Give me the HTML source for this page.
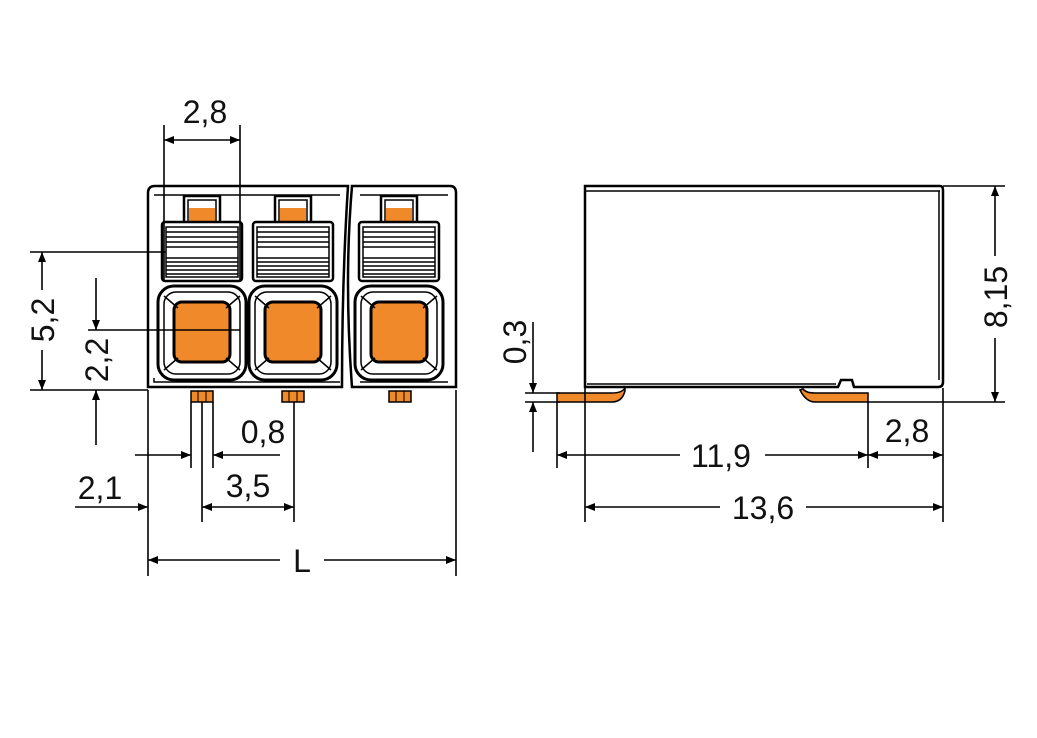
<!DOCTYPE html>
<html><head><meta charset="utf-8"><style>
html,body{margin:0;padding:0;background:#fff;}
svg{display:block;}
text{font-family:"Liberation Sans",sans-serif;font-size:32px;fill:#111;}
</style></head><body>
<svg width="1037" height="738" viewBox="0 0 1037 738" xmlns="http://www.w3.org/2000/svg">
<defs>
<marker id="a" viewBox="0 0 10 10" refX="10" refY="5" markerWidth="22" markerHeight="10" markerUnits="userSpaceOnUse" orient="auto-start-reverse"><path d="M0,1 L10,5 L0,9 Z" fill="#000"/></marker>
<g id="mod">
 <path d="M22,36 V10 H58 V36" fill="#fff" stroke="#000" stroke-width="2.5"/>
 <path d="M26,36 V14 H54 V36" fill="none" stroke="#000" stroke-width="1.5"/>
 <rect x="27" y="22" width="26" height="16" fill="#f0892a"/>
 <rect x="0" y="36" width="80" height="59" rx="3" fill="#fff" stroke="#000" stroke-width="2.5"/>
 <rect x="4" y="41" width="72" height="50" fill="#fff" stroke="#000" stroke-width="1.5"/>
 <g stroke="#000" stroke-width="1.6">
  <line x1="4" y1="46" x2="76" y2="46"/><line x1="4" y1="51" x2="76" y2="51"/><line x1="4" y1="56" x2="76" y2="56"/>
  <line x1="4" y1="61" x2="76" y2="61"/><line x1="4" y1="72" x2="76" y2="72"/><line x1="4" y1="76" x2="76" y2="76"/>
  <line x1="4" y1="80" x2="76" y2="80"/><line x1="4" y1="84" x2="76" y2="84"/><line x1="4" y1="88" x2="76" y2="88"/>
 </g>
 <rect x="-4" y="100" width="88" height="94" rx="16" fill="#fff" stroke="#000" stroke-width="3"/>
 <rect x="2" y="106" width="76" height="82" rx="12" fill="none" stroke="#000" stroke-width="1.5"/>
 <rect x="12" y="116" width="56" height="60" rx="8" fill="#f0892a" stroke="#000" stroke-width="3"/>
 <g stroke="#000" stroke-width="1.5"><line x1="2" y1="110" x2="16" y2="122"/><line x1="78" y1="110" x2="64" y2="122"/><line x1="2" y1="184" x2="16" y2="172"/><line x1="78" y1="184" x2="64" y2="172"/></g>
</g>
<g id="pin"><rect x="0" y="0" width="22" height="11" fill="#f0892a" stroke="#000" stroke-width="1.5"/><line x1="7" y1="0" x2="7" y2="11" stroke="#000"/><line x1="15" y1="0" x2="15" y2="11" stroke="#000"/></g>
</defs>

<path d="M148,193 Q148,186 155,186 H348 Q342,280 342,387 H148 Z" fill="#fff" stroke="#000" stroke-width="2.5"/>
<path d="M352,186 H450 Q456,186 456,193 V387 H352 Q344,280 352,186 Z" fill="#fff" stroke="#000" stroke-width="2.5"/>
<path d="M154,195 H340 M360,195 H448" stroke="#000" stroke-width="1.5"/>
<path d="M154,378 V382 H340 M360,382 H448" stroke="#000" stroke-width="1.5" fill="none"/>
<use href="#mod" x="162" y="186"/>
<use href="#mod" x="253" y="186"/>
<use href="#mod" x="359" y="186"/>
<use href="#pin" x="191" y="391"/>
<use href="#pin" x="282" y="391"/>
<use href="#pin" x="389" y="391"/>

<g stroke="#000" stroke-width="1.6" fill="none">
 <line x1="164" y1="125" x2="164" y2="280"/><line x1="240" y1="125" x2="240" y2="280"/>
 <line x1="164" y1="140" x2="240" y2="140" marker-start="url(#a)" marker-end="url(#a)"/>
 <line x1="30" y1="252" x2="166" y2="252"/><line x1="30" y1="390" x2="148" y2="390"/>
 <line x1="42" y1="290" x2="42" y2="252" marker-end="url(#a)"/><line x1="42" y1="350" x2="42" y2="390" marker-end="url(#a)"/>
 <line x1="88" y1="330" x2="240" y2="330"/>
 <line x1="96" y1="278" x2="96" y2="330" marker-end="url(#a)"/><line x1="96" y1="445" x2="96" y2="390" marker-end="url(#a)"/>
 <line x1="191" y1="402" x2="191" y2="468"/><line x1="213" y1="402" x2="213" y2="468"/>
 <line x1="135" y1="455" x2="191" y2="455" marker-end="url(#a)"/><line x1="280" y1="455" x2="213" y2="455" marker-end="url(#a)"/>
 <line x1="202" y1="402" x2="202" y2="522"/><line x1="294" y1="402" x2="294" y2="522"/>
 <line x1="202" y1="507" x2="294" y2="507" marker-start="url(#a)" marker-end="url(#a)"/>
 <line x1="75" y1="507" x2="148" y2="507" marker-end="url(#a)"/>
 <line x1="148" y1="390" x2="148" y2="576"/><line x1="456" y1="390" x2="456" y2="576"/>
 <line x1="148" y1="560" x2="280" y2="560" marker-start="url(#a)"/><line x1="324" y1="560" x2="456" y2="560" marker-end="url(#a)"/>
</g>
<text x="205" y="123" text-anchor="middle">2,8</text>
<text transform="translate(54,320) rotate(-90)" text-anchor="middle">5,2</text>
<text transform="translate(108,360) rotate(-90)" text-anchor="middle">2,2</text>
<text x="263" y="443" text-anchor="middle">0,8</text>
<text x="248" y="497" text-anchor="middle">3,5</text>
<text x="100" y="499" text-anchor="middle">2,1</text>
<text x="302" y="572" text-anchor="middle">L</text>

<path d="M837,386 L840,377 H942" fill="none" stroke="#000" stroke-width="2"/>
<path d="M585,186 H940 Q943,186 943,190 V382 Q943,387 938,387 H854 L852,380 H841 L838,387 H585 Z" fill="#fff" stroke="#000" stroke-width="2.5"/>
<line x1="585" y1="191" x2="940" y2="191" stroke="#000" stroke-width="1.5"/>
<line x1="939" y1="191" x2="939" y2="380" stroke="#000" stroke-width="1.5"/>
<line x1="587" y1="384" x2="836" y2="384" stroke="#000" stroke-width="1.5"/>
<path d="M557,393 H612 Q622,393 625,388 V391 Q622,402 612,402 H557 Z" fill="#f0892a" stroke="#000" stroke-width="1.5"/>
<path d="M803,389 Q806,393 815,393 H868 V402 H815 Q806,402 800,390 Z" fill="#f0892a" stroke="#000" stroke-width="1.5"/>

<g stroke="#000" stroke-width="1.6" fill="none">
 <line x1="525" y1="393" x2="560" y2="393"/><line x1="525" y1="402" x2="560" y2="402"/>
 <line x1="533" y1="322" x2="533" y2="393" marker-end="url(#a)"/><line x1="533" y1="452" x2="533" y2="402" marker-end="url(#a)"/>
 <line x1="943" y1="186" x2="1005" y2="186"/><line x1="868" y1="402" x2="1005" y2="402"/>
 <line x1="995" y1="256" x2="995" y2="186" marker-end="url(#a)"/><line x1="995" y1="338" x2="995" y2="402" marker-end="url(#a)"/>
 <line x1="557" y1="402" x2="557" y2="468"/><line x1="868" y1="402" x2="868" y2="468"/>
 <line x1="557" y1="455" x2="680" y2="455" marker-start="url(#a)"/><line x1="765" y1="455" x2="868" y2="455" marker-end="url(#a)"/>
 <line x1="943" y1="388" x2="943" y2="522"/>
 <line x1="868" y1="455" x2="943" y2="455" marker-start="url(#a)" marker-end="url(#a)"/>
 <line x1="585" y1="388" x2="585" y2="522"/>
 <line x1="585" y1="507" x2="720" y2="507" marker-start="url(#a)"/><line x1="806" y1="507" x2="943" y2="507" marker-end="url(#a)"/>
</g>
<text transform="translate(526,342) rotate(-90)" text-anchor="middle">0,3</text>
<text transform="translate(1007,297) rotate(-90)" text-anchor="middle">8,15</text>
<text x="721" y="467" text-anchor="middle">11,9</text>
<text x="907" y="442" text-anchor="middle">2,8</text>
<text x="763" y="519" text-anchor="middle">13,6</text>
</svg>
</body></html>
